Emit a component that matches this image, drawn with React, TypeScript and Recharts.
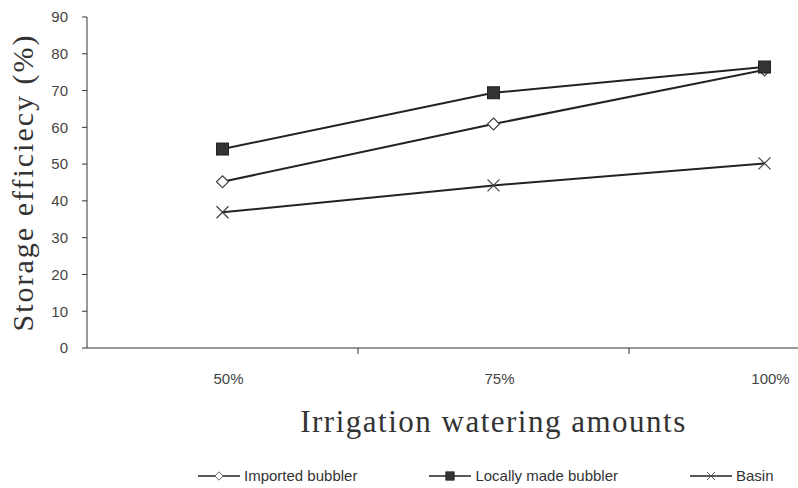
import { LineChart, Line, XAxis, YAxis } from "recharts";

const amounts = ["50%", "75%", "100%"];
const imported = [45.2, 60.9, 75.6];
const locallyMade = [54.1, 69.4, 76.4];
const basin = [36.9, 44.2, 50.2];
const yTicks = [0, 10, 20, 30, 40, 50, 60, 70, 80, 90];

const data = amounts.map((a, i) => ({
  amount: a,
  imported: imported[i],
  locallyMade: locallyMade[i],
  basin: basin[i],
}));

const ink = "#222";

function Diamond({ cx, cy }: any) {
  return (
    <polygon
      points={`${cx},${cy - 6} ${cx + 6},${cy} ${cx},${cy + 6} ${cx - 6},${cy}`}
      fill="#fff"
      stroke="#444"
      strokeWidth={1.2}
    />
  );
}

function Square({ cx, cy }: any) {
  return <rect x={cx - 6} y={cy - 6} width={12} height={12} fill="#333" stroke="#222" />;
}

function Cross({ cx, cy }: any) {
  return (
    <g stroke="#444" strokeWidth={1.2}>
      <line x1={cx - 6} y1={cy - 6} x2={cx + 6} y2={cy + 6} />
      <line x1={cx - 6} y1={cy + 6} x2={cx + 6} y2={cy - 6} />
    </g>
  );
}

const series = [
  { key: "imported", name: "Imported bubbler", Marker: Diamond },
  { key: "locallyMade", name: "Locally made bubbler", Marker: Square },
  { key: "basin", name: "Basin", Marker: Cross },
];

// label at the band centre, tick mark on the band's right edge (Excel style)
function AmountTick(props: any) {
  const { x, y, payload } = props;
  const half = payload.offset || 0;
  return (
    <g>
      <line x1={x + half} y1={y - 25} x2={x + half} y2={y - 19} stroke="#333" />
      <text
        x={x + 6}
        y={y}
        dy="0.71em"
        textAnchor="middle"
        fontSize={15}
        fill="#444"
        fontFamily="Liberation Sans, Arial"
      >
        {payload.value}
      </text>
    </g>
  );
}

function LegendIcon({ Marker }: any) {
  return (
    <svg width={42} height={14} style={{ marginRight: 4 }}>
      <line x1={0} y1={7} x2={42} y2={7} stroke={ink} strokeWidth={1.5} />
      <g transform="translate(21,7) scale(0.7) translate(-21,-7)">
        <Marker cx={21} cy={7} />
      </g>
    </svg>
  );
}

export default function App() {
  return (
    <div
      style={{
        position: "absolute",
        left: 0,
        top: 0,
        width: 798,
        height: 488,
        overflow: "hidden",
        background: "#fff",
      }}
    >
      <LineChart
        width={905}
        height={488}
        data={data}
        margin={{ top: 17, right: 5, bottom: 50, left: 0 }}
      >
        <XAxis
          dataKey="amount"
          scale="band"
          tickLine={false}
          tickSize={6}
          tickMargin={19}
          height={90}
          stroke="#333"
          tick={<AmountTick />}
          label={{
            value: "Irrigation watering amounts",
            position: "insideBottom",
            offset: 6,
            style: {
              fontFamily: "Liberation Serif, Times New Roman",
              fontSize: 31,
              letterSpacing: 1.5,
              fill: "#333",
            },
          }}
        />
        <YAxis
          domain={[0, 90]}
          ticks={yTicks}
          width={87}
          tickSize={5}
          tickMargin={14}
          stroke="#333"
          tick={{ fontSize: 15, fill: "#444", fontFamily: "Liberation Sans, Arial" }}
          label={{
            value: "Storage efficiecy (%)",
            angle: -90,
            position: "center",
            dx: -21,
            style: {
              fontFamily: "Liberation Serif, Times New Roman",
              fontSize: 30,
              letterSpacing: 2,
              fill: "#333",
            },
          }}
        />
        {series.map((s) => (
          <Line
            key={s.key}
            dataKey={s.key}
            name={s.name}
            stroke={ink}
            strokeWidth={2}
            isAnimationActive={false}
            dot={(p: any) => <s.Marker key={`${s.key}-${p.index}`} cx={p.cx} cy={p.cy} />}
            activeDot={false}
          />
        ))}
      </LineChart>
      <div
        style={{
          position: "absolute",
          left: 198,
          top: 467,
          display: "flex",
          alignItems: "center",
          gap: 72,
          fontFamily: "Liberation Sans, Arial",
          fontSize: 15,
          color: "#333",
        }}
      >
        {series.map((s) => (
          <div key={s.key} style={{ display: "flex", alignItems: "center" }}>
            <LegendIcon Marker={s.Marker} />
            <span>{s.name}</span>
          </div>
        ))}
      </div>
    </div>
  );
}
